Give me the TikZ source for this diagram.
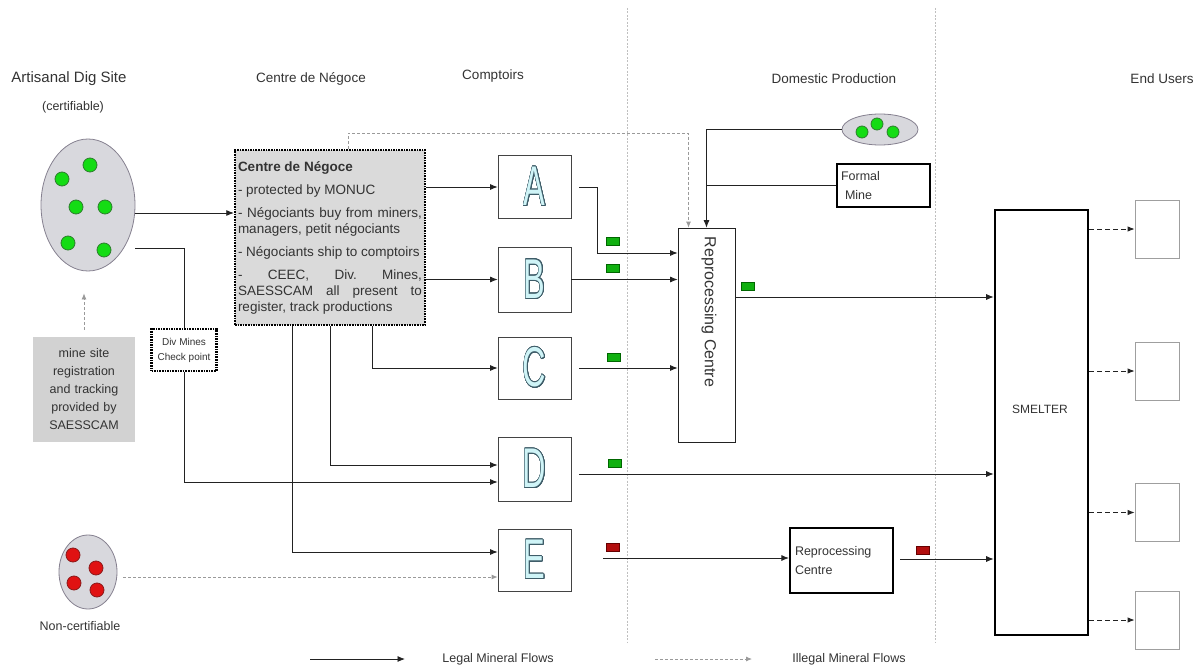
\documentclass[tikz,border=0pt]{standalone}
\usepackage{fontspec}
\setmainfont{Liberation Sans}
\usepackage[copies]{contour}
\usetikzlibrary{arrows.meta,shapes.geometric,calc}
\contourlength{0.9pt}
\contournumber{24}
\parindent=0pt
\frenchspacing
\definecolor{txt}{HTML}{333333}
\definecolor{ln}{HTML}{222222}
\definecolor{dotgray}{HTML}{9A9A9A}
\definecolor{boxgray}{HTML}{DADADA}
\definecolor{reggray}{HTML}{D2D2D2}
\definecolor{ovalgray}{HTML}{D8D8DD}
\definecolor{ovalline}{HTML}{85808F}
\definecolor{gdot}{HTML}{14DC14}
\definecolor{gdotb}{HTML}{2E7D2E}
\definecolor{rdot}{HTML}{E01212}
\definecolor{rdotb}{HTML}{8B1A1A}
\definecolor{lettfill}{HTML}{CFF4F7}
\definecolor{lettline}{HTML}{3E5C68}
\tikzset{
  flow/.style={draw=ln, line width=0.8pt, -{Latex[length=7.5pt,width=6pt]}},
  plain/.style={draw=ln, line width=0.8pt},
  illegal/.style={draw=dotgray, line width=0.8pt, dash pattern=on 3pt off 2pt, -{Latex[length=6pt,width=5pt]}},
  euflow/.style={draw=ln, line width=0.9pt, dash pattern=on 5pt off 3pt, -{Latex[length=7pt,width=5.5pt]}},
  sepline/.style={draw=gray!50, line width=0.7pt, dash pattern=on 2pt off 1.5pt},
  comp/.style={draw=ln!85, line width=0.8pt, minimum width=73pt, inner sep=0pt, fill=white},
  lett/.style={font=\fontsize{56}{56}\selectfont},
  thickbox/.style={draw=black, line width=2.2pt},
  dotbox/.style={draw=black, line width=2.4pt, dash pattern=on 1.6pt off 1pt},
  gdotsty/.style={circle, fill=gdot, draw=gdotb, line width=0.8pt, minimum size=14pt, inner sep=0pt},
  rdotsty/.style={circle, fill=rdot, draw=rdotb, line width=0.8pt, minimum size=14pt, inner sep=0pt},
  gtok/.style={rectangle, fill=gdot!80!black, draw=black!60!green, line width=0.8pt, minimum width=13pt, minimum height=8pt, inner sep=0pt},
  rtok/.style={rectangle, fill=rdot!80!black, draw=black!60!red, line width=0.8pt, minimum width=13pt, minimum height=8pt, inner sep=0pt},
  hdr/.style={font=\fontsize{13.5}{16}\selectfont, anchor=base},
  small/.style={font=\fontsize{12.5}{15}\selectfont},
  eubox/.style={draw=gray!75, line width=0.8pt, minimum width=44pt, minimum height=58pt, inner sep=0pt},
}
\begin{document}
\begin{tikzpicture}[x=1pt, y=-1pt, every node/.style={text=txt}]
\useasboundingbox (0,0) rectangle (1195,669);

% separators
\coordinate (s1t) at (627,8);  \coordinate (s1b) at (627,642);
\coordinate (s2t) at (935,8);  \coordinate (s2b) at (935,642);
\draw[sepline] (s1t) -- (s1b);
\draw[sepline] (s2t) -- (s2b);

% headers
\node[hdr, font=\fontsize{15}{16}\selectfont] (h1) at (69,83) {Artisanal Dig Site};
\node[small] (h1b) at (73,107) {(certifiable)};
\node[hdr] (h2) at (311,83) {Centre de Négoce};
\node[hdr] (h3) at (493,80) {Comptoirs};
\node[hdr] (h4) at (834,84) {Domestic Production};
\node[hdr] (h5) at (1162,84) {End Users};

% certifiable site
\node[ellipse, draw=ovalline, fill=ovalgray, line width=0.8pt, minimum width=94pt, minimum height=132pt, inner sep=0pt] (cert) at (88,205) {};
\node[gdotsty] (g1) at (90,165) {};
\node[gdotsty] (g2) at (62,179) {};
\node[gdotsty] (g3) at (76,207) {};
\node[gdotsty] (g4) at (105,207) {};
\node[gdotsty] (g5) at (68,243) {};
\node[gdotsty] (g6) at (104,250) {};

% non-certifiable
\node[ellipse, draw=ovalline, fill=ovalgray, line width=0.8pt, minimum width=58pt, minimum height=74pt, inner sep=0pt] (noncert) at (88,572) {};
\node[rdotsty] (r1) at (73,555) {};
\node[rdotsty] (r2) at (96,568) {};
\node[rdotsty] (r3) at (74,583) {};
\node[rdotsty] (r4) at (97,590) {};
\node[small] (nct) at (80,626) {Non-certifiable};

% registration box
\node[fill=reggray, minimum width=102pt, minimum height=105pt, text width=95pt, align=center, font=\fontsize{12.5}{18}\selectfont] (reg) at (84,389.5) {mine site\\registration\\and tracking\\provided by\\SAESSCAM};

% check point
\node[dotbox, fill=white, minimum width=65pt, minimum height=42pt, inner sep=2pt, align=center, font=\fontsize{10}{15}\selectfont] (chk) at (184,350) {Div Mines\\Check point};

% Centre de Negoce box
\node[dotbox, fill=boxgray, minimum width=190pt, minimum height=175pt, text width=184pt, inner sep=3pt, align=justify, font=\fontsize{13.5}{16}\selectfont] (cdn) at (330,237.5) {\textbf{Centre de Négoce}\\[7pt]
- protected by MONUC\\[7pt]
- Négociants buy from miners,\linebreak managers, petit négociants\\[7pt]
- Négociants ship to comptoirs\\[7pt]
- CEEC, Div. Mines,\linebreak SAESSCAM all present to\linebreak register, track productions};

% comptoirs
\node[comp, minimum height=63pt, lett] (A) at (534.5,187) {\scalebox{0.58}[1]{\contour{lettline}{\textcolor{lettfill}{A}}}};
\node[comp, minimum height=65pt, lett] (B) at (534.5,279.5) {\scalebox{0.58}[1]{\contour{lettline}{\textcolor{lettfill}{B}}}};
\node[comp, minimum height=62pt, lett] (C) at (534.5,368) {\scalebox{0.58}[1]{\contour{lettline}{\textcolor{lettfill}{C}}}};
\node[comp, minimum height=64pt, lett] (D) at (534.5,469) {\scalebox{0.58}[1]{\contour{lettline}{\textcolor{lettfill}{D}}}};
\node[comp, minimum height=62pt, lett] (E) at (534.5,560) {\scalebox{0.58}[1]{\contour{lettline}{\textcolor{lettfill}{E}}}};

% reprocessing centre
\node[draw=ln, line width=0.8pt, minimum width=57pt, minimum height=214pt, inner sep=0pt] (rc) at (706.5,335) {};
\node[rotate=-90, font=\fontsize{16}{16}\selectfont] (rctxt) at (709,312) {Reprocessing Centre};

% domestic production
\node[ellipse, draw=ovalline, fill=ovalgray, line width=0.8pt, minimum width=76pt, minimum height=31pt, inner sep=0pt] (dom) at (880,129.5) {};
\node[gdotsty, minimum size=12pt] (d1) at (862,132) {};
\node[gdotsty, minimum size=12pt] (d2) at (877,124) {};
\node[gdotsty, minimum size=12pt] (d3) at (893,132) {};
\node[thickbox, inner sep=4pt, minimum width=93pt, minimum height=43pt, text width=85pt, align=left, font=\fontsize{12.5}{19}\selectfont] (formal) at (883.5,185.5) {Formal\\\hspace*{4pt}Mine};

% small reprocessing centre
\node[thickbox, inner sep=5pt, text width=93pt, minimum height=65pt, align=left, font=\fontsize{12.5}{19}\selectfont] (src) at (841.5,560.5) {Reprocessing\\Centre};

% smelter
\node[thickbox, line width=2.6pt, minimum width=93pt, minimum height=425pt, inner sep=0pt] (smelter) at (1041.5,422.5) {};
\node[font=\fontsize{12}{12}\selectfont] (smtxt) at (1040,409) {SMELTER};

% end users
\node[eubox] (eu1) at (1157,229) {};
\node[eubox] (eu2) at (1157,371) {};
\node[eubox] (eu3) at (1157,512.5) {};
\node[eubox] (eu4) at (1157,620) {};

% ---------- connectors ----------
\coordinate (certA) at ([yshift=-8pt]cert.east);
\draw[flow] (certA) -- (certA -| cdn.west);
\coordinate (certB) at ([yshift=-43pt]cert.east);
\draw[plain] (certB) -| (chk.north);
\draw[flow] (chk.south) |- ([yshift=-13pt]D.west);

\draw[flow] (cdn.east |- A.west) -- (A.west);
\draw[flow] (cdn.east |- B.west) -- (B.west);
\draw[flow] ([xshift=42pt]cdn.south) |- (C.west);
\draw[flow] (cdn.south) |- ([yshift=4pt]D.west);
\draw[flow] ([xshift=-38pt]cdn.south) |- ([yshift=8pt]E.west);

\coordinate (ncA) at ([xshift=6pt,yshift=-5pt]noncert.east);
\draw[illegal] (ncA) -- (ncA -| E.west);
\coordinate (regtip) at ([yshift=-22pt]cert.south);
\draw[illegal] ([yshift=7pt]reg.north) -- (reg.north |- regtip);

\coordinate (topy) at (500,133);
\draw[illegal] ([xshift=18pt]cdn.north) |- (topy) -| ([xshift=-18pt]rc.north);
\draw[flow] (dom.west) -| (rc.north);
\draw[plain] (formal.west) -- (formal.west -| rc.north);

\draw[flow] ([xshift=8pt]A.east) -- ([xshift=26pt]A.east) |- ([yshift=82pt]rc.west);
\draw[flow] (B.east) -- (B.east -| rc.west);
\coordinate (cout) at ([xshift=8pt]C.east);
\draw[flow] (cout) -- (cout -| rc.west);

\coordinate (rcout) at ([yshift=38pt]rc.east);
\draw[flow] (rcout) -- (rcout -| smelter.west);
\coordinate (dout) at ([xshift=8pt,yshift=-5pt]D.east);
\draw[flow] (dout) -- (dout -| smelter.west);
\coordinate (eout) at ([xshift=32pt,yshift=2pt]E.east);
\draw[flow] (eout) -- (eout -| src.west);
\coordinate (srcout) at ([xshift=6pt,yshift=1.5pt]src.east);
\draw[flow] (srcout) -- (srcout -| smelter.west);

\draw[euflow] (smelter.east |- eu1.west) -- (eu1.west);
\draw[euflow] (smelter.east |- eu2.west) -- (eu2.west);
\draw[euflow] (smelter.east |- eu3.west) -- (eu3.west);
\draw[euflow] (smelter.east |- eu4.west) -- (eu4.west);

% tokens
\node[gtok] (t1) at (613,241) {};
\node[gtok] (t2) at (613,268) {};
\node[gtok] (t3) at (614,357) {};
\node[gtok] (t4) at (748,286) {};
\node[gtok] (t5) at (615,463) {};
\node[rtok] (t6) at (613,547) {};
\node[rtok] (t7) at (923,550) {};

% legend
\coordinate (lg1) at (310,659); \coordinate (lg2) at (405,659);
\draw[flow] (lg1) -- (lg2);
\node[small] (lgt) at (498,659) {Legal Mineral Flows};
\coordinate (li1) at (655,659); \coordinate (li2) at (752,659);
\draw[illegal] (li1) -- (li2);
\node[small] (lit) at (849,659) {Illegal Mineral Flows};
\end{tikzpicture}
\end{document}
